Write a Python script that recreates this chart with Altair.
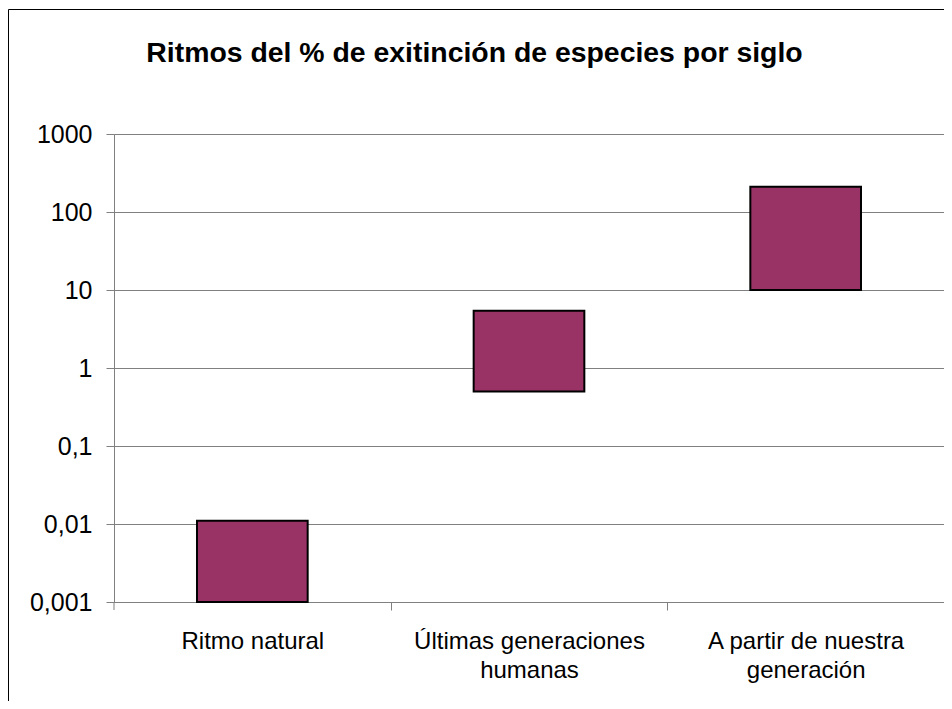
import altair as alt
import pandas as pd

# Data
categories = ["Ritmo natural", "Últimas generaciones humanas", "A partir de nuestra generación"]
label_lines = [["Ritmo natural"], ["Últimas generaciones", "humanas"], ["A partir de nuestra", "generación"]]
low_values = [0.001, 0.5, 10]
high_values = [0.011, 5.4, 210]
tick_values = [0.001, 0.01, 0.1, 1, 10, 100, 1000]
title_text = "Ritmos del % de exitinción de especies por siglo"

df = pd.DataFrame({"cat": categories, "low": low_values, "high": high_values})

FONT = "Liberation Sans"
W, H = 830, 468
STEP = W / len(categories)

# multi-line x labels
parts = []
for c, lines in zip(categories, label_lines):
    arr = "[" + ",".join("'" + l + "'" for l in lines) + "]"
    parts.append(f"datum.value == '{c}' ? {arr}")
label_expr = " : ".join(parts) + " : datum.label"

bars = alt.Chart(df).mark_bar(
    color="#993366", stroke="black", strokeWidth=2
).encode(
    x=alt.X("cat:N", sort=categories, title=None,
            scale=alt.Scale(paddingInner=0.6, paddingOuter=0.3),
            axis=alt.Axis(labelExpr=label_expr, labelAngle=0, labelFont=FONT,
                          labelFontSize=24, labelColor="black",
                          labelBaseline="alphabetic", labelPadding=38,
                          labelLineHeight=29, tickOffset=STEP / 2,
                          labelOffset=-STEP / 2, tickSize=8,
                          tickColor="#808080", domainColor="#808080",
                          grid=False, labelLimit=400)),
    y=alt.Y("low:Q", title=None,
            scale=alt.Scale(type="log", domain=[0.001, 1000], nice=False),
            axis=alt.Axis(values=tick_values,
                          labelExpr="replace(toString(datum.value), '.', ',')",
                          labelFont=FONT, labelFontSize=25, labelColor="black",
                          labelPadding=14, tickSize=8, tickColor="#808080",
                          domainColor="#808080", gridColor="#808080",
                          gridOpacity=1, grid=True)),
    y2="high:Q",
)

one = pd.DataFrame({"t": [title_text]})

first_tick = alt.Chart(one).mark_rule(color="#808080", strokeWidth=1).encode(
    x=alt.value(0), y=alt.value(H), y2=alt.value(H + 8)
)

title = alt.Chart(one).mark_text(
    font=FONT, fontSize=28.4, fontWeight="bold", color="black",
    align="center", baseline="alphabetic"
).encode(text="t:N", x=alt.value(360.5), y=alt.value(-72))

border = alt.Chart(one).mark_rect(
    fill="transparent", stroke="black", strokeWidth=1
).encode(x=alt.value(-105.5), x2=alt.value(900), y=alt.value(-124.5), y2=alt.value(700))

chart = alt.layer(border, bars, first_tick, title).properties(
    width=W, height=H,
    autosize=alt.AutoSizeParams(type="none"),
    padding={"left": 106, "top": 126, "right": 0, "bottom": 99},
).configure_view(stroke=None).configure(background="white")

chart.save("out.html", embed_options={"renderer": "svg", "actions": False})
